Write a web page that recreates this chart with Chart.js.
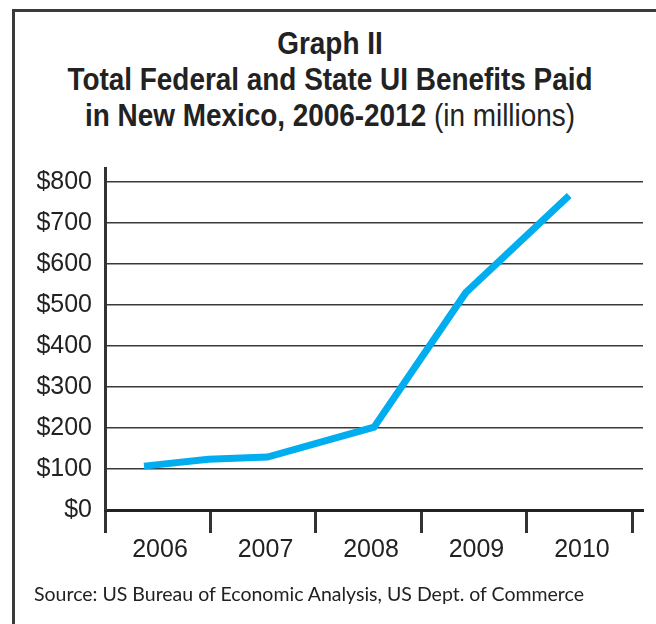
<!DOCTYPE html>
<html>
<head>
<meta charset="utf-8">
<script src="https://cdn.jsdelivr.net/npm/chart.js@4"></script>
<style>
  html, body { margin: 0; padding: 0; background: #fff; }
  #wrap { position: relative; width: 656px; height: 624px; overflow: hidden; }
  #frame { position: absolute; left: 12px; top: 9px; width: 700px; height: 700px;
           border-left: 3px solid #3a3a3a; border-top: 3px solid #3a3a3a; }
  #title { position: absolute; left: 14px; width: 632px; top: 26px; text-align: center;
           font-family: "Liberation Sans", Arial, sans-serif;
           font-size: 31px; line-height: 36px; color: #222;
           transform: scaleX(0.9); transform-origin: 50% 0; }
  #title b { font-weight: bold; }
  #title span { font-weight: normal; }
  #source { position: absolute; left: 34px; top: 582px; font-family: Lato, "Open Sans", sans-serif;
            font-size: 19.5px; color: #222; }
  canvas { position: absolute; left: 0; top: 0; }
</style>
</head>
<body>
<div id="wrap">
  <div id="frame"></div>
  <div id="title">
    <div><b>Graph II</b></div>
    <div><b>Total Federal and State UI Benefits Paid</b></div>
    <div><b>in New Mexico, 2006-2012</b> <span>(in millions)</span></div>
  </div>
  <canvas id="uiChart" width="656" height="624"></canvas>
  <div id="source">Source: US Bureau of Economic Analysis, US Dept. of Commerce</div>
</div>
<script>
// 数据
const yearLabels = ['2006', '2007', '2008', '2009', '2010'];
const pointYears = [2005.87, 2006.48, 2007.04, 2008.05, 2008.92, 2009.9];
const benefitsMillions = [107, 124, 129, 202, 530, 767];
const yTickValues = [0, 100, 200, 300, 400, 500, 600, 700, 800];

const ctx = document.getElementById('uiChart').getContext('2d');
new Chart(ctx, {
    type: 'line',
    data: {
        datasets: [{
            data: pointYears.map((x, i) => ({ x: x, y: benefitsMillions[i] })),
            borderColor: '#00aeef',
            borderWidth: 7,
            borderCapStyle: 'butt',
            borderJoinStyle: 'miter',
            pointRadius: 0,
            tension: 0
        }]
    },
    options: {
        responsive: false,
        animation: false,
        layout: { padding: { left: 0, top: 168, right: 13, bottom: 0 } },
        plugins: { legend: { display: false }, tooltip: { enabled: false } },
        scales: {
            x: {
                type: 'linear',
                min: 2005.5,
                max: 2010.6,
                afterBuildTicks: function(scale) {
                    scale.ticks = yearLabels.map(y => ({ value: Number(y) - 0.5 }))
                        .concat([{ value: 2010.5 }]);
                },
                afterFit: function(scale) { scale.height = 114; },
                ticks: {
                    autoSkip: false,
                    maxRotation: 0,
                    labelOffset: 55,
                    padding: 2,
                    color: '#222',
                    font: { family: 'Liberation Sans', size: 25 },
                    callback: function(value, index) {
                        return index < yearLabels.length ? yearLabels[index] : '';
                    }
                },
                grid: {
                    drawOnChartArea: false,
                    drawTicks: true,
                    tickLength: 23,
                    tickWidth: 3,
                    tickColor: '#333'
                },
                border: { display: true, color: '#222', width: 3 }
            },
            y: {
                min: 0,
                max: 834,
                afterBuildTicks: function(scale) {
                    scale.ticks = yTickValues.map(v => ({ value: v }));
                },
                afterFit: function(scale) { scale.width = 105; },
                ticks: {
                    padding: 13,
                    color: '#222',
                    font: { family: 'Liberation Sans', size: 25 },
                    callback: function(value) { return '$' + value; }
                },
                grid: { color: '#3a3a3a', lineWidth: 1.5, drawTicks: false },
                border: { display: true, color: '#333', width: 3 }
            }
        }
    }
});
</script>
</body>
</html>
